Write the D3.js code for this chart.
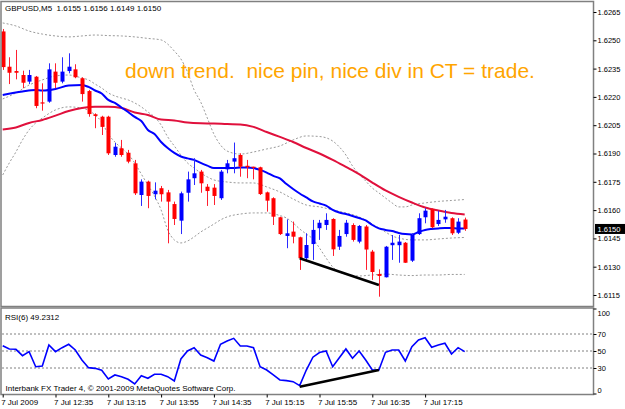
<!DOCTYPE html>
<html><head><meta charset="utf-8">
<script src="https://cdn.jsdelivr.net/npm/d3@7"></script>
<style>body{margin:0;background:#fff}svg{display:block}text{font-family:"Liberation Sans",Arial,sans-serif;white-space:pre}</style>
</head><body><svg id="c" width="625" height="409"></svg>
<script>
// ---- candle data (GBPUSD M5, 71 bars) ----
const opens =[1.62547,1.62360,1.62337,1.62316,1.62281,1.62307,1.62171,1.62175,1.62334,1.62281,1.62337,1.62346,1.62299,1.62231,1.62108,1.62095,1.62095,1.61892,1.61928,1.61904,1.61848,1.61680,1.61751,1.61684,1.61716,1.61694,1.61632,1.61544,1.61692,1.61769,1.61804,1.61724,1.61719,1.61663,1.61816,1.61857,1.61892,1.61835,1.61830,1.61827,1.61694,1.61663,1.61562,1.61463,1.61486,1.61456,1.61345,1.61420,1.61504,1.61521,1.61553,1.61406,1.61473,1.61521,1.61433,1.61513,1.61380,1.61261,1.61244,1.61414,1.61414,1.61427,1.61332,1.61473,1.61562,1.61604,1.61526,1.61551,1.61557,1.61480,1.6155];
const highs =[1.62560,1.62410,1.62449,1.62339,1.62343,1.62311,1.62272,1.62378,1.62378,1.62410,1.62431,1.62373,1.62304,1.62237,1.62113,1.62100,1.62100,1.61956,1.61972,1.61919,1.61866,1.61763,1.61756,1.61747,1.61728,1.61707,1.61645,1.61698,1.61804,1.61875,1.61813,1.61738,1.61738,1.61813,1.61866,1.61958,1.61901,1.61866,1.61830,1.61830,1.61698,1.61668,1.61565,1.61551,1.61539,1.61459,1.61477,1.61548,1.61548,1.61583,1.61557,1.61495,1.61548,1.61530,1.61521,1.61521,1.61389,1.61286,1.61410,1.61468,1.61468,1.61431,1.61477,1.61583,1.61610,1.61610,1.61597,1.61601,1.61562,1.61557,1.6156];
const lows  =[1.62343,1.62268,1.62293,1.62246,1.62268,1.62140,1.62127,1.62169,1.62246,1.62272,1.62325,1.62299,1.62175,1.62095,1.62034,1.61998,1.61892,1.61883,1.61883,1.61848,1.61680,1.61622,1.61610,1.61657,1.61645,1.61424,1.61521,1.61473,1.61645,1.61733,1.61692,1.61622,1.61627,1.61654,1.61795,1.61795,1.61777,1.61769,1.61763,1.61680,1.61592,1.61521,1.61468,1.61398,1.61424,1.61283,1.61327,1.61336,1.61442,1.61495,1.61357,1.61389,1.61459,1.61433,1.61424,1.61283,1.61230,1.61141,1.61243,1.61336,1.61321,1.61320,1.61325,1.61468,1.61530,1.61504,1.61516,1.61533,1.61468,1.61473,1.6149];
const closes=[1.62358,1.62328,1.62328,1.62275,1.62316,1.62152,1.62166,1.62346,1.62275,1.62334,1.62360,1.62304,1.62215,1.62109,1.62099,1.62041,1.61901,1.61936,1.61892,1.61857,1.61689,1.61751,1.61675,1.61703,1.61684,1.61645,1.61553,1.61689,1.61763,1.61795,1.61742,1.61701,1.61675,1.61804,1.61848,1.61875,1.61830,1.61827,1.61825,1.61685,1.61650,1.61565,1.61473,1.61477,1.61459,1.61345,1.61415,1.61495,1.61533,1.61548,1.61392,1.61463,1.61533,1.61442,1.61516,1.61391,1.61272,1.61251,1.61406,1.61427,1.61433,1.61321,1.61468,1.61557,1.61597,1.61509,1.61548,1.61565,1.61477,1.61539,1.6150];

// ---- indicator readings [bar index, value] ----
const blueMA=[[0,1.62210],[3,1.62229],[5,1.62237],[6,1.62234],[8,1.62242],[10,1.62260],[12,1.62263],[13,1.62253],[14,1.62234],[15,1.62218],[16,1.62184],[17,1.62168],[18,1.62144],[19,1.62120],[20,1.62094],[21,1.62072],[22,1.62025],[23,1.62003],[24,1.61961],[25,1.61929],[26,1.61903],[27,1.61884],[28,1.61874],[29,1.61866],[30,1.61850],[31,1.61836],[32,1.61823],[33,1.61823],[34,1.61823],[35,1.61823],[36,1.61826],[37,1.61826],[38,1.61823],[39,1.61813],[40,1.61799],[41,1.61781],[42,1.61768],[43,1.61738],[44,1.61712],[45,1.61688],[46,1.61667],[47,1.61646],[48,1.61635],[49,1.61624],[50,1.61601],[51,1.61587],[52,1.61579],[53,1.61569],[54,1.61558],[55,1.61545],[56,1.61521],[57,1.61503],[58,1.61495],[59,1.61489],[60,1.61479],[61,1.61473],[62,1.61471],[63,1.61484],[64,1.61495],[65,1.61500],[66,1.61503],[67,1.61505],[68,1.61505],[69,1.61503],[70,1.61503]];
const redMA=[[0,1.62027],[2,1.62038],[4,1.62062],[6,1.62078],[8,1.62101],[10,1.62125],[12,1.62141],[14,1.62148],[16,1.62148],[18,1.62141],[20,1.62117],[22,1.62104],[24,1.62080],[26,1.62075],[28,1.62064],[30,1.62060],[32,1.62059],[34,1.62056],[36,1.62054],[38,1.62041],[40,1.62014],[42,1.61988],[44,1.61961],[46,1.61929],[48,1.61900],[50,1.61866],[52,1.61829],[54,1.61791],[56,1.61746],[58,1.61704],[60,1.61670],[62,1.61640],[64,1.61614],[66,1.61598],[68,1.61585],[70,1.61577]];
const bandUpper=[[0,1.62592],[2,1.62576],[4,1.62549],[6,1.62533],[8,1.62523],[10,1.62518],[12,1.62523],[14,1.62528],[16,1.62525],[18,1.62523],[20,1.62518],[22,1.62510],[24,1.62502],[25,1.62480],[26,1.62443],[27,1.62401],[28,1.62332],[29,1.62237],[30,1.62173],[31,1.62088],[32,1.62003],[33,1.61945],[34,1.61913],[36,1.61897],[38,1.61908],[40,1.61924],[42,1.61940],[44,1.61972],[46,1.61993],[48,1.61990],[50,1.61966],[51,1.61935],[52,1.61892],[53,1.61834],[54,1.61791],[55,1.61754],[56,1.61717],[57,1.61691],[58,1.61664],[59,1.61638],[60,1.61617],[61,1.61617],[62,1.61627],[64,1.61638],[66,1.61646],[68,1.61651],[70,1.61656]];
const bandMiddle=[[0,1.62189],[2,1.62221],[4,1.62263],[6,1.62290],[8,1.62311],[10,1.62316],[12,1.62300],[13,1.62290],[14,1.62268],[15,1.62247],[16,1.62221],[17,1.62205],[18,1.62194],[19,1.62184],[20,1.62168],[21,1.62147],[22,1.62120],[23,1.62094],[24,1.62051],[25,1.61988],[26,1.61940],[27,1.61892],[28,1.61850],[29,1.61823],[30,1.61797],[31,1.61776],[32,1.61760],[34,1.61749],[36,1.61744],[38,1.61744],[39,1.61736],[40,1.61723],[42,1.61696],[44,1.61659],[46,1.61627],[48,1.61617],[50,1.61601],[52,1.61585],[54,1.61564],[56,1.61526],[58,1.61484],[59,1.61463],[60,1.61452],[62,1.61442],[64,1.61442],[66,1.61447],[68,1.61452],[70,1.61455]];
const bandLower=[[0,1.61786],[1,1.61850],[2,1.61908],[3,1.61972],[4,1.62025],[5,1.62062],[6,1.62088],[8,1.62131],[10,1.62147],[12,1.62141],[14,1.62104],[15,1.62067],[16,1.62003],[17,1.61961],[18,1.61929],[19,1.61897],[20,1.61850],[21,1.61791],[22,1.61733],[23,1.61675],[24,1.61601],[25,1.61495],[26,1.61442],[27,1.61426],[28,1.61436],[29,1.61458],[30,1.61484],[31,1.61505],[32,1.61526],[33,1.61548],[34,1.61564],[36,1.61579],[38,1.61585],[40,1.61585],[42,1.61571],[43,1.61558],[44,1.61532],[45,1.61500],[46,1.61473],[47,1.61447],[48,1.61399],[49,1.61346],[50,1.61299],[51,1.61272],[52,1.61261],[54,1.61251],[56,1.61256],[58,1.61261],[60,1.61256],[62,1.61253],[64,1.61256],[66,1.61256],[68,1.61259],[70,1.61259]];
const rsiValues=[56.2,52.4,52.0,44.5,49.2,31.5,32.4,57.1,49.2,53.9,57.9,51.2,39.4,30.4,29.6,27.3,17.1,21.8,19.8,16.7,11.2,20.9,17.9,22.6,22.6,19.8,14.7,40.6,50.0,53.9,45.3,42.1,38.2,57.9,61.8,64.9,55.9,55.9,53.9,31.5,27.6,21.8,15.9,15.1,13.9,9.2,27.6,42.7,48.2,50.0,31.5,42.1,52.4,41.4,50.0,39.4,27.6,27.6,48.5,51.2,51.2,38.2,55.1,62.9,65.6,54.4,57.1,59.1,46.5,53.9,49.2];

// ---- axis labels ----
const priceTicks=[1.6265,1.6250,1.6235,1.6220,1.6205,1.6190,1.6175,1.6160,1.6145,1.6130,1.6115];
const rsiTicks=[100,70,50,30,0];
const rsiLevels=[70,50,30];
const timeIdx=[0,8,16,24,32,40,48,56,64];
const timeLabels=["7 Jul 2009","7 Jul 12:35","7 Jul 13:15","7 Jul 13:55","7 Jul 14:35","7 Jul 15:15","7 Jul 15:55","7 Jul 16:35","7 Jul 17:15"];
const ohlcHeader=["1.6155","1.6156","1.6149","1.6150"];
const priceTrend=[[45,1.61345],[57,1.61203]];
const rsiTrend=[[45,8.0],[57,27.6]];
const lastPrice=1.6150;

const svg=d3.select("#c");
const x=d3.scaleLinear().domain([0,70]).range([2.7,464.7]);
const y=d3.scaleLinear().domain([1.6115,1.6265]).range([295,12]);
const r=d3.scaleLinear().domain([0,100]).range([393.5,308.5]);

svg.append("rect").attr("x",0).attr("y",0).attr("width",625).attr("height",409).attr("fill","#fff");
const main=svg.append("g");
const rsiG=svg.append("g");

// bands (dashed gray)
const lineP=d3.line().x(d=>x(d[0])).y(d=>y(d[1])).curve(d3.curveMonotoneX);
[bandUpper,bandMiddle,bandLower].forEach(b=>{
  main.append("path").attr("d",lineP(b)).attr("fill","none").attr("stroke","#9a9a9a").attr("stroke-width",1).attr("stroke-dasharray","2,2");
});
// MAs
main.append("path").attr("d",lineP(redMA)).attr("fill","none").attr("stroke","#e0103c").attr("stroke-width",2);
main.append("path").attr("d",lineP(blueMA)).attr("fill","none").attr("stroke","#0000ff").attr("stroke-width",2);

// candles
const idx=d3.range(opens.length);
const cg=main.append("g");
cg.selectAll("line.w").data(idx).join("line")
  .attr("x1",i=>Math.round(x(i))+0.5).attr("x2",i=>Math.round(x(i))+0.5)
  .attr("y1",i=>y(highs[i])).attr("y2",i=>y(lows[i]))
  .attr("stroke",i=>closes[i]>=opens[i]?"#2a2aff":"#ff2030").attr("stroke-width",1);
cg.selectAll("rect.b").data(idx).join("rect")
  .attr("x",i=>Math.round(x(i))-1.5).attr("width",4)
  .attr("y",i=>y(Math.max(opens[i],closes[i])))
  .attr("height",i=>Math.max(1.2,Math.abs(y(opens[i])-y(closes[i]))))
  .attr("fill",i=>closes[i]>=opens[i]?"#0000ff":"#ff0000");

// price trendline
main.append("line").attr("x1",x(priceTrend[0][0])).attr("y1",y(priceTrend[0][1]))
  .attr("x2",x(priceTrend[1][0])).attr("y2",y(priceTrend[1][1])).attr("stroke","#000").attr("stroke-width",2.5);

// annotation
svg.append("text").attr("x",125).attr("y",77.5).attr("fill","#ffa500").attr("font-size","21px")
  .attr("xml:space","preserve").text("down trend.  nice pin, nice div in CT = trade.");

// header
svg.append("text").attr("x",5).attr("y",11).attr("font-size","8px").attr("fill","#000")
  .attr("xml:space","preserve").text("GBPUSD,M5  "+ohlcHeader.join(" "));

// pane borders
svg.append("rect").attr("x",1).attr("y",1.5).attr("width",592.5).attr("height",305).attr("fill","none").attr("stroke","#808080").attr("stroke-width",1.5);
svg.append("rect").attr("x",1).attr("y",308).attr("width",592.5).attr("height",86.5).attr("fill","none").attr("stroke","#808080").attr("stroke-width",1.5);

// price axis
const ya=svg.append("g").attr("transform","translate(593.5,0)")
  .call(d3.axisRight(y).tickValues(priceTicks).tickSize(3).tickPadding(1).tickFormat(d3.format(".4f")));
ya.select(".domain").remove();
ya.selectAll("line").attr("stroke","#000");
ya.selectAll("text").attr("font-size","7.5px").attr("font-family","Liberation Sans, Arial, sans-serif").attr("fill","#000");

// last price tag
svg.append("rect").attr("x",595).attr("y",y(lastPrice)-5).attr("width",30).attr("height",10).attr("fill","#000");
svg.append("text").attr("x",597.5).attr("y",y(lastPrice)+3).attr("font-size","7.5px").attr("fill","#fff").text(d3.format(".4f")(lastPrice));

// RSI pane
rsiLevels.forEach(v=>rsiG.append("line").attr("x1",2).attr("x2",593).attr("y1",r(v)).attr("y2",r(v))
  .attr("stroke","#808080").attr("stroke-width",1).attr("stroke-dasharray","2,2"));
const lineR=d3.line().x((d,i)=>x(i)).y(d=>r(d));
rsiG.append("path").attr("d",lineR(rsiValues)).attr("fill","none").attr("stroke","#0000ff").attr("stroke-width",1.6);
rsiG.append("line").attr("x1",x(rsiTrend[0][0])).attr("y1",r(rsiTrend[0][1]))
  .attr("x2",x(rsiTrend[1][0])).attr("y2",r(rsiTrend[1][1])).attr("stroke","#000").attr("stroke-width",2.5);
svg.append("text").attr("x",5).attr("y",320).attr("font-size","8px").attr("fill","#000")
  .text("RSI(6) "+d3.format(".4f")(49.2312));
svg.append("text").attr("x",5.5).attr("y",391).attr("font-size","8px").attr("fill","#000")
  .text("Interbank FX Trader 4, © 2001-2009 MetaQuotes Software Corp.");

const ra=svg.append("g").attr("transform","translate(593.5,0)")
  .call(d3.axisRight(r).tickValues(rsiTicks).tickSize(3).tickPadding(1));
ra.select(".domain").remove();
ra.selectAll("line").attr("stroke","#000");
ra.selectAll("text").attr("font-size","7.5px").attr("font-family","Liberation Sans, Arial, sans-serif").attr("fill","#000")
  .attr("dy",d=>d===100?"0.95em":(d===0?"-0.1em":"0.32em"));

// time axis
const xa=svg.append("g").attr("transform","translate(0,394.5)")
  .call(d3.axisBottom(x).tickValues(timeIdx).tickSize(3).tickPadding(2).tickFormat((d,k)=>timeLabels[k]));
xa.select(".domain").remove();
xa.selectAll("line").attr("stroke","#000");
xa.selectAll("text").attr("font-size","8px").attr("font-family","Liberation Sans, Arial, sans-serif").attr("fill","#000")
  .attr("text-anchor","start").attr("dx","-2");
</script></body></html>
